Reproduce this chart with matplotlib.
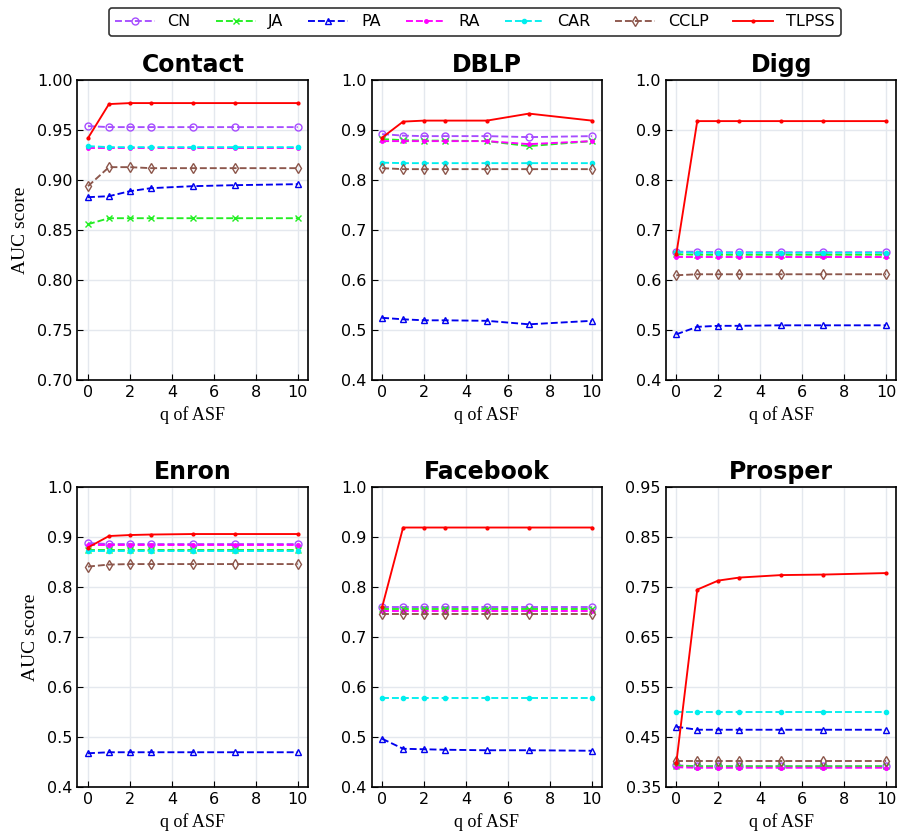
import matplotlib
matplotlib.use('Agg')
import matplotlib.pyplot as plt
import numpy as np

q = [0, 1, 2, 3, 5, 7, 10]
methods = ['CN', 'JA', 'PA', 'RA', 'CAR', 'CCLP', 'TLPSS']
datasets = ['Contact', 'DBLP', 'Digg', 'Enron', 'Facebook', 'Prosper']

# AUC, per dataset, per method
contact = {
    'CN':    [0.954, 0.953, 0.953, 0.953, 0.953, 0.953, 0.953],
    'JA':    [0.856, 0.862, 0.862, 0.862, 0.862, 0.862, 0.862],
    'PA':    [0.883, 0.884, 0.889, 0.892, 0.894, 0.895, 0.896],
    'RA':    [0.932, 0.932, 0.932, 0.932, 0.932, 0.932, 0.932],
    'CAR':   [0.934, 0.933, 0.933, 0.933, 0.933, 0.933, 0.933],
    'CCLP':  [0.894, 0.913, 0.913, 0.912, 0.912, 0.912, 0.912],
    'TLPSS': [0.942, 0.976, 0.977, 0.977, 0.977, 0.977, 0.977],
}
dblp = {
    'CN':    [0.892, 0.889, 0.888, 0.888, 0.888, 0.886, 0.888],
    'JA':    [0.882, 0.880, 0.879, 0.879, 0.878, 0.868, 0.878],
    'PA':    [0.525, 0.522, 0.520, 0.520, 0.519, 0.512, 0.519],
    'RA':    [0.878, 0.878, 0.878, 0.878, 0.878, 0.872, 0.878],
    'CAR':   [0.835, 0.834, 0.834, 0.834, 0.834, 0.834, 0.834],
    'CCLP':  [0.824, 0.822, 0.822, 0.822, 0.822, 0.822, 0.822],
    'TLPSS': [0.885, 0.917, 0.919, 0.919, 0.919, 0.933, 0.919],
}
digg = {
    'CN':    [0.657, 0.657, 0.656, 0.656, 0.656, 0.656, 0.656],
    'JA':    [0.652, 0.651, 0.651, 0.651, 0.651, 0.651, 0.651],
    'PA':    [0.492, 0.507, 0.509, 0.509, 0.510, 0.510, 0.510],
    'RA':    [0.647, 0.647, 0.647, 0.647, 0.647, 0.647, 0.647],
    'CAR':   [0.656, 0.655, 0.655, 0.655, 0.655, 0.655, 0.655],
    'CCLP':  [0.610, 0.612, 0.612, 0.612, 0.612, 0.612, 0.612],
    'TLPSS': [0.652, 0.918, 0.918, 0.918, 0.918, 0.918, 0.918],
}
enron = {
    'CN':    [0.888, 0.886, 0.886, 0.886, 0.886, 0.886, 0.886],
    'JA':    [0.875, 0.875, 0.875, 0.875, 0.875, 0.875, 0.875],
    'PA':    [0.468, 0.470, 0.470, 0.470, 0.470, 0.470, 0.470],
    'RA':    [0.884, 0.884, 0.884, 0.884, 0.884, 0.884, 0.884],
    'CAR':   [0.873, 0.873, 0.873, 0.873, 0.873, 0.873, 0.873],
    'CCLP':  [0.841, 0.845, 0.846, 0.846, 0.846, 0.846, 0.846],
    'TLPSS': [0.879, 0.902, 0.904, 0.905, 0.906, 0.906, 0.906],
}
facebook = {
    'CN':    [0.760, 0.760, 0.760, 0.760, 0.760, 0.760, 0.760],
    'JA':    [0.756, 0.756, 0.756, 0.756, 0.756, 0.756, 0.756],
    'PA':    [0.497, 0.477, 0.476, 0.475, 0.474, 0.474, 0.473],
    'RA':    [0.752, 0.752, 0.752, 0.752, 0.752, 0.752, 0.752],
    'CAR':   [0.579, 0.579, 0.579, 0.579, 0.579, 0.579, 0.579],
    'CCLP':  [0.746, 0.746, 0.746, 0.746, 0.746, 0.746, 0.746],
    'TLPSS': [0.760, 0.919, 0.919, 0.919, 0.919, 0.919, 0.919],
}
prosper = {
    'CN':    [0.394, 0.392, 0.392, 0.392, 0.392, 0.392, 0.392],
    'JA':    [0.393, 0.392, 0.392, 0.392, 0.392, 0.392, 0.392],
    'PA':    [0.471, 0.465, 0.465, 0.465, 0.465, 0.465, 0.465],
    'RA':    [0.390, 0.389, 0.389, 0.389, 0.389, 0.389, 0.389],
    'CAR':   [0.500, 0.500, 0.500, 0.500, 0.500, 0.500, 0.500],
    'CCLP':  [0.403, 0.403, 0.403, 0.403, 0.403, 0.403, 0.403],
    'TLPSS': [0.398, 0.745, 0.763, 0.769, 0.774, 0.775, 0.778],
}
all_data = [contact, dblp, digg, enron, facebook, prosper]

ylims = [(0.70, 1.00), (0.4, 1.0), (0.4, 1.0), (0.4, 1.0), (0.4, 1.0), (0.35, 0.95)]
yticks = [np.arange(0.70, 1.001, 0.05), np.arange(0.4, 1.001, 0.1), np.arange(0.4, 1.001, 0.1),
          np.arange(0.4, 1.001, 0.1), np.arange(0.4, 1.001, 0.1), np.arange(0.35, 0.951, 0.1)]
yfmt = ['%.2f', '%.1f', '%.1f', '%.1f', '%.1f', '%.2f']

styles = {
    'CN':    dict(color='#a64dff', ls='--', marker='o', mfc='none', ms=5),
    'JA':    dict(color='#22ee22', ls='--', marker='x', ms=4),
    'PA':    dict(color='#0000ee', ls='--', marker='^', mfc='none', ms=5),
    'RA':    dict(color='#ff00ff', ls='--', marker='.', ms=5),
    'CAR':   dict(color='#00eeee', ls='--', marker='.', ms=6),
    'CCLP':  dict(color='#8c564b', ls='--', marker='d', mfc='none', ms=5),
    'TLPSS': dict(color='#ff0000', ls='-', marker='.', ms=4),
}

fig, axes = plt.subplots(2, 3, figsize=(9.01, 8.34), dpi=100)
plt.subplots_adjust(left=0.086, right=0.995, top=0.904, bottom=0.056, wspace=0.275, hspace=0.355)

for i, ax in enumerate(axes.flat):
    d = all_data[i]
    for m in methods:
        ax.plot(q, d[m], label=m, lw=1.35, **styles[m])
    ax.set_title(datasets[i], fontsize=17, fontweight='bold')
    ax.set_ylim(*ylims[i])
    ax.set_yticks(yticks[i])
    ax.set_yticklabels([yfmt[i] % v for v in yticks[i]])
    ax.set_xticks([0, 2, 4, 6, 8, 10])
    ax.set_xlim(-0.5, 10.5)
    ax.tick_params(direction='in', labelsize=11.5, length=4)
    ax.grid(True, color='#e4e8ee', lw=1)
    ax.set_axisbelow(True)
    ax.set_xlabel('q of ASF', family='Liberation Serif', fontsize=13)
    if i % 3 == 0:
        ax.set_ylabel('AUC score', family='Liberation Serif', fontsize=14, labelpad=6)
    for s in ax.spines.values():
        s.set_linewidth(1.2)

handles, labels = axes[0, 0].get_legend_handles_labels()
leg = fig.legend(handles, labels, loc='upper center', ncol=7, bbox_to_anchor=(0.527, 1.0),
                 fontsize=11.5, frameon=True, handlelength=2.5, columnspacing=1.55,
                 fancybox=True, edgecolor='black')
leg.get_frame().set_linewidth(1.2)

fig.savefig('out.png', dpi=100)
